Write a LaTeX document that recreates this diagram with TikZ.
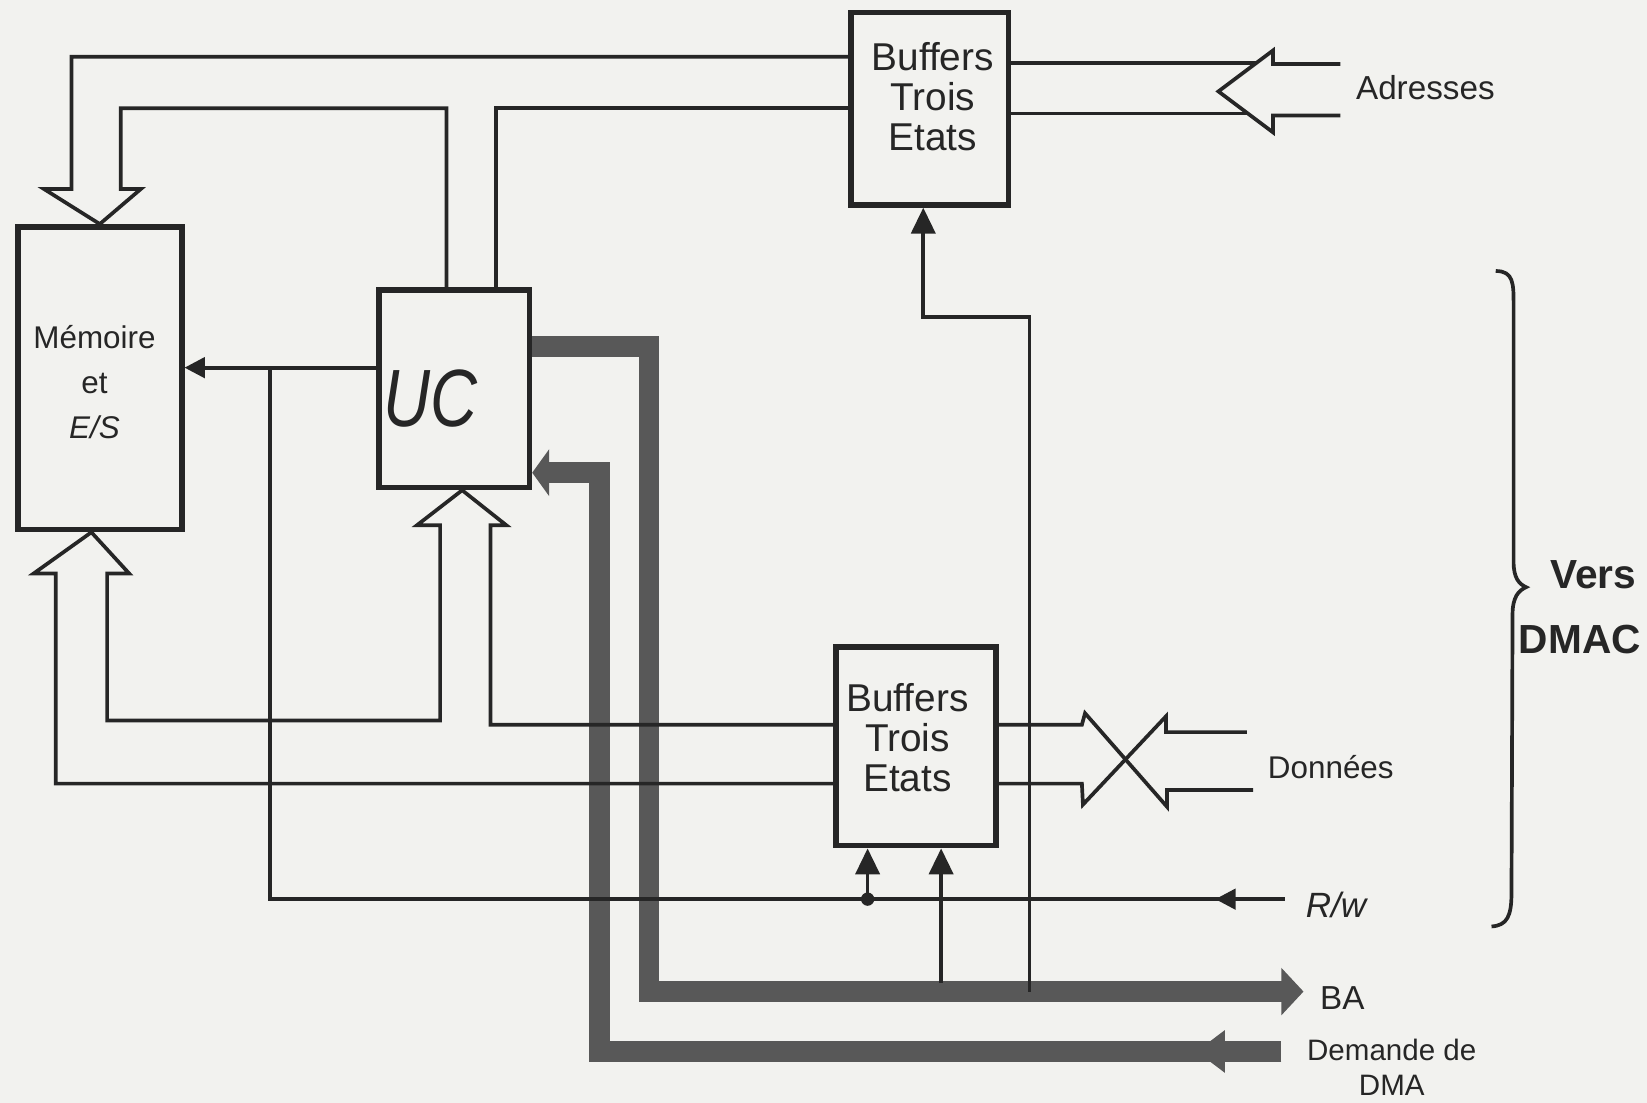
\documentclass[tikz,border=0pt]{standalone}
\usepackage{fontspec}
\usepackage{graphicx}
\setmainfont{Liberation Sans}
\usetikzlibrary{arrows.meta}

\definecolor{paper}{RGB}{242,242,239}
\definecolor{ink}{RGB}{38,38,38}
\definecolor{busgray}{RGB}{88,88,88}

\tikzset{
  box/.style={draw=ink, line width=1.5pt, inner sep=0pt},
  wire/.style={draw=ink, line width=1pt},
  bus/.style={draw=busgray, line width=5.6pt},
  txt/.style={text=ink, align=center, inner sep=0pt},
  arrS/.style={-{Triangle[length=7pt,width=6.5pt]}},
  arrM/.style={-{Triangle[length=5.5pt,width=5.5pt]}},
}

\begin{document}
\begin{tikzpicture}[x=0.01cm, y=-0.01cm]
  \useasboundingbox (0,0) rectangle (1568,1050);
  \fill[paper] (0,0) rectangle (1568,1050);

  % boxes
  \node[box, minimum width=1.56cm, minimum height=2.88cm] (mem) at (95,360) {};
  \node[box, minimum width=1.43cm, minimum height=1.88cm] (uc) at (432.5,370) {};
  \node[box, minimum width=1.50cm, minimum height=1.83cm] (bufA) at (885,103.5) {};
  \node[box, minimum width=1.52cm, minimum height=1.89cm] (bufB) at (872,710.5) {};

  \node[txt, font=\fontsize{8.5}{12.2}\selectfont] at (90,364) {Mémoire\\et\\\textit{E/S}};
  \node[txt, font=\fontsize{22}{22}\selectfont\itshape] at (410,379) {\scalebox{0.8}[1]{UC}};
  \node[txt, font=\fontsize{10.5}{10.8}\selectfont] at (888,92) {Buffers\\Trois\\Etats};
  \node[txt, font=\fontsize{10.5}{10.8}\selectfont] at (864,702) {Buffers\\Trois\\Etats};

  % free ends towards the DMAC
  \coordinate (adrUp) at (1276,61);
  \coordinate (adrDn) at (1276,110);
  \coordinate (datUp) at (1187,697);
  \coordinate (datDn) at (1193,752);
  \coordinate (rwEnd) at (1223,856);
  \coordinate (baEnd) at (1241,944);
  \coordinate (dmaEnd) at (1220,1001);
  \coordinate (baTapA) at (980,944);
  \coordinate (baTapB) at (896,936);

  % thick buses
  \draw[bus, -{Triangle[length=6pt,width=12.5pt]}] (uc.east |- 0,330) -- (618,330) -- (618,944) -- (baEnd);
  \draw[bus, -{Triangle[length=4.6pt,width=12.5pt]}] (dmaEnd) -- (571,1001) -- (571,450) -- (uc.east |- 0,450);
  \draw[bus, -{Triangle[length=7.7pt,width=11pt]}] (1180,1001) -- (1139,1001);

  % address bus
  \draw[wire] (bufA.west |- 0,54) -- (68,54) -- (68,180) -- (42,180) -- (mem.north) -- (134,180)
    -- (115,180) -- (115,103) -- (425,103) -- (uc.north -| 425,0);
  \draw[wire] (uc.north -| 472,0) -- (472,103) -- (bufA.west |- 0,103);
  \draw[wire] (bufA.east |- 0,60) -- (1196,60);
  \draw[wire] (bufA.east |- 0,108) -- (1188,108);
  \draw[wire] (adrUp) -- (1212,61) -- (1212,48) -- (1160,87) -- (1212,126) -- (1212,110) -- (adrDn);

  % data bus
  \draw[wire] (bufB.west |- 0,746) -- (53,746) -- (53,546) -- (32,546) -- (mem.south -| 87,0) -- (123,546)
    -- (102,546) -- (102,686) -- (419,686) -- (419,500) -- (397,500) -- (uc.south -| 440,0)
    -- (482,500) -- (467,500) -- (467,690) -- (bufB.west |- 0,690);
  \draw[wire] (bufB.east |- 0,690) -- (1030,690) -- (1033,679) -- (1111,768) -- (1111,752) -- (datDn);
  \draw[wire] (bufB.east |- 0,746) -- (1030,746) -- (1031,766) -- (1110,682) -- (1110,697) -- (datUp);

  % control lines
  \draw[wire, arrS] (baTapA) -- (980,302) -- (879,302) -- (bufA.south -| 879,0);
  \draw[wire, arrM] (uc.west |- 0,350) -- (mem.east |- 0,350);
  \draw[wire] (rwEnd) -- (257,856) -- (257,350);
  \draw[wire, arrM] (1180,856) -- (1157,856);
  \fill[ink] (826,856) circle (1.8pt);
  \draw[wire, arrS] (826,856) -- (bufB.south -| 826,0);
  \draw[wire, arrS] (baTapB) -- (bufB.south -| 896,0);

  % brace
  \draw[wire] (1424,258) .. controls (1441,258) and (1441,270) .. (1441,290) -- (1441,535)
    .. controls (1441,550) and (1446,556) .. (1453,559) .. controls (1446,562) and (1440,568) .. (1440,585)
    -- (1439,850) .. controls (1439,872) and (1435,881) .. (1420,882);

  % labels
  \node[txt, font=\fontsize{9}{9}\selectfont] (adr) at (1357,83) {Adresses};
  \node[txt, font=\fontsize{8.5}{8.5}\selectfont] (don) at (1267,730) {Données};
  \node[txt, font=\fontsize{9.5}{9.5}\selectfont\itshape] (rw) at (1272,862) {R/w};
  \node[txt, font=\fontsize{9}{9}\selectfont] (ba) at (1278,950) {BA};
  \node[txt, font=\fontsize{8}{9.6}\selectfont] (dma) at (1325,1016) {Demande de\\DMA};
  \node[txt, font=\fontsize{11}{11}\selectfont\bfseries] (vers) at (1517,547) {Vers};
  \node[txt, font=\fontsize{11}{11}\selectfont\bfseries] (dmac) at (1504,609) {DMAC};
\end{tikzpicture}
\end{document}
